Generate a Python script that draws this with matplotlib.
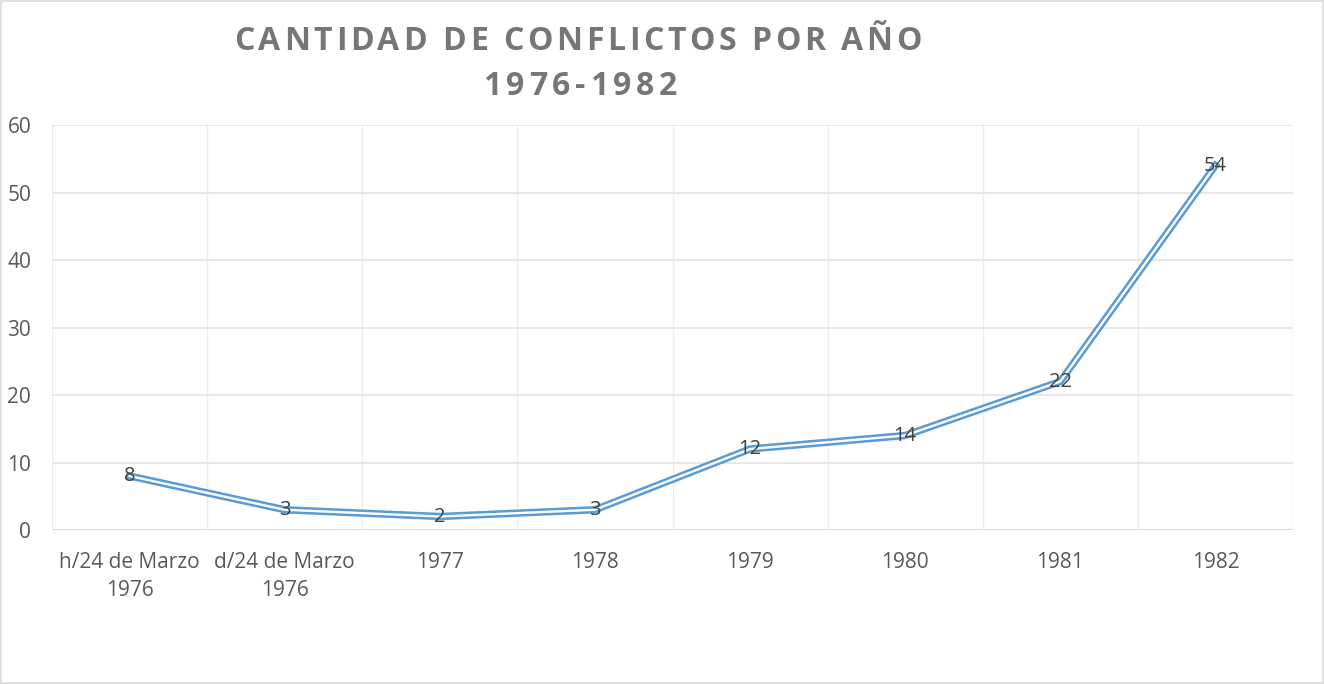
import matplotlib.pyplot as plt
from matplotlib.patches import Rectangle

categories = ["h/24 de Marzo\n1976", "d/24 de Marzo\n1976", "1977", "1978",
              "1979", "1980", "1981", "1982"]
conflictos = [8, 3, 2, 3, 12, 14, 22, 54]
yticks = [0, 10, 20, 30, 40, 50, 60]
titulo = ["CANTIDAD DE CONFLICTOS POR AÑO", "1976-1982"]

plt.rcParams["font.family"] = ["Open Sans", "DejaVu Sans"]

fig = plt.figure(figsize=(13.24, 6.84), dpi=100)
ax = fig.add_axes([52 / 1324, 1 - 530 / 684, 1241 / 1324, 405 / 684])

x = list(range(len(categories)))
blue = "#5B9BD5"
# Excel "double" line: wide blue stroke with a thin white core
ax.plot(x, conflictos, color=blue, lw=5.3, solid_joinstyle="miter", zorder=3)
ax.plot(x, conflictos, color="white", lw=1.7, solid_joinstyle="miter", zorder=4)

for xi, v in zip(x, conflictos):
    ax.text(xi, v, str(v), ha="center", va="center", fontsize=14.5,
            color="#404040", zorder=5)

ax.set_xlim(-0.5, len(categories) - 0.5)
ax.set_ylim(0, 60)
ax.set_yticks(yticks)
ax.set_xticks(x)
ax.set_xticklabels(categories, linespacing=1.45)
ax.tick_params(length=0, labelsize=15, labelcolor="#595959")
ax.tick_params(axis="y", pad=15)
ax.tick_params(axis="x", pad=16)

for s in ax.spines.values():
    s.set_visible(False)

ax.yaxis.grid(True, color="#E3E3E3", lw=1.2)
for b in [i - 0.5 for i in range(len(categories) + 1)]:
    ax.axvline(b, color="#EDEDED", lw=1.0, zorder=0)
ax.axhline(0, color="#D9D9D9", lw=1.5, zorder=1)
ax.set_axisbelow(True)

# title with letter spacing, drawn char by char on a common baseline
renderer = fig.canvas.get_renderer()
for line, cx, base, spacing in zip(titulo, [578, 580], [50, 95], [3.6, 4.8]):
    items = []
    total = 0
    for ch in line:
        t = fig.text(0, 0, ch, fontsize=23, fontweight="bold", color="#767676",
                     ha="left", va="baseline")
        w = t.get_window_extent(renderer).width if ch != " " else 23 * 100 / 72 * 0.26
        items.append((t, w))
        total += w + spacing
    total -= spacing
    px = cx - total / 2
    for t, w in items:
        t.set_position((px / 1324, 1 - base / 684))
        px += w + spacing

fig.patches.append(Rectangle((0.001, 0.001), 0.998, 0.998, transform=fig.transFigure,
                             fill=False, edgecolor="#D9D9D9", lw=1.2))

fig.savefig("out.png", dpi=100)
